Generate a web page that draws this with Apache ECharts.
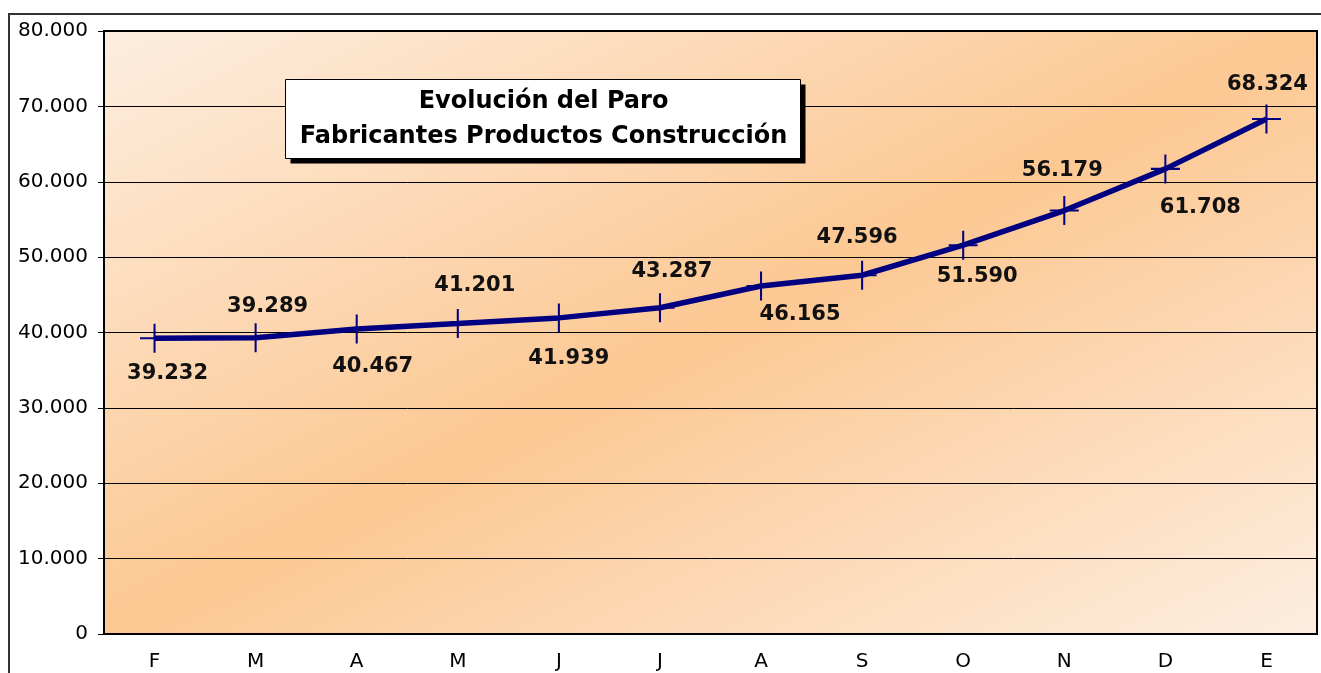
<!DOCTYPE html>
<html>
<head>
<meta charset="utf-8">
<title>Evolución del Paro</title>
<script src="https://cdn.jsdelivr.net/npm/echarts@6/dist/echarts.min.js"></script>
<style>
  html, body { margin: 0; padding: 0; background: #fff; }
  #chart { width: 1321px; height: 673px; }
</style>
</head>
<body>
<div id="chart"></div>
<script>
// datos
const months = ['F', 'M', 'A', 'M', 'J', 'J', 'A', 'S', 'O', 'N', 'D', 'E']
const paro = [39232, 39289, 40467, 41201, 41939, 43287, 46165, 47596, 51590, 56179, 61708, 68324]
const titleLines = ['Evolución del Paro', 'Fabricantes Productos Construcción']

// label placement (dx, dy from each point), as moved by hand in the original
const labelShift = [
  [13, 35], [12, -31], [16, 38], [17, -38], [10, 41], [12, -36],
  [39, 29], [-5, -38], [14, 31], [-2, -40], [35, 39], [1, -34],
]

const fmt = (v) => String(v).replace(/\B(?=(\d{3})+(?!\d))/g, '.')
const font = 'DejaVu Sans, Verdana, sans-serif'

const chart = echarts.init(document.getElementById('chart'))

const titleText = (txt, y) => ({
  type: 'text',
  x: 258,
  y: y,
  z: 102,
  style: {
    text: txt,
    font: 'bold 24px ' + font,
    fill: '#000',
    align: 'center',
    verticalAlign: 'middle',
  },
})

chart.setOption({
  animation: false,
  textStyle: { fontFamily: font },
  grid: {
    left: 104,
    right: 4,
    top: 31,
    bottom: 39,
    show: true,
    borderColor: '#000',
    borderWidth: 2,
    backgroundColor: new echarts.graphic.LinearGradient(0.302, -0.302, 0.698, 1.302, [
      { offset: 0, color: '#fdeee0' },
      { offset: 0.5, color: '#fcc893' },
      { offset: 1, color: '#fdeee0' },
    ]),
  },
  xAxis: {
    type: 'category',
    data: months,
    boundaryGap: true,
    axisLine: { lineStyle: { color: '#000', width: 2 } },
    axisTick: { length: 5, lineStyle: { color: '#000', width: 1 } },
    axisLabel: { color: '#000', fontSize: 20, margin: 18, fontFamily: font },
  },
  yAxis: {
    type: 'value',
    min: 0,
    max: 80000,
    interval: 10000,
    axisLine: { show: true, lineStyle: { color: '#000', width: 2 } },
    axisTick: { show: true, length: 6, lineStyle: { color: '#000', width: 1 } },
    axisLabel: { color: '#000', fontSize: 20, margin: 16, fontFamily: font, formatter: fmt },
    splitLine: { lineStyle: { color: '#000', width: 1 } },
  },
  series: [
    {
      type: 'line',
      data: paro.map((v, i) => ({
        value: v,
        label: { offset: labelShift[i] },
      })),
      lineStyle: { color: '#000080', width: 5.5 },
      itemStyle: { color: '#000080' },
      symbol: 'path://M9.3,0h1.4v9.3h9.3v1.4h-9.3v9.3h-1.4v-9.3h-9.3v-1.4h9.3z',
      symbolSize: 29,
      label: {
        show: true,
        position: 'inside',
        color: '#111',
        fontSize: 21,
        fontWeight: 'bold',
        fontFamily: font,
        formatter: (p) => fmt(p.value),
      },
      z: 3,
    },
  ],
  graphic: [
    {
      type: 'rect',
      shape: { x: 9, y: 14, width: 1400, height: 800 },
      style: { fill: 'none', stroke: '#333', lineWidth: 2 },
      silent: true,
      z: 0,
    },
    {
      type: 'group',
      left: 285,
      top: 79,
      z: 100,
      children: [
        {
          type: 'rect',
          z: 100,
          shape: { x: 5, y: 5, width: 515, height: 79 },
          style: { fill: '#000' },
        },
        {
          type: 'rect',
          z: 101,
          shape: { x: 0, y: 0, width: 515, height: 79 },
          style: { fill: '#fff', stroke: '#000', lineWidth: 1 },
        },
        titleText(titleLines[0], 22),
        titleText(titleLines[1], 57),
      ],
    },
  ],
})
</script>
</body>
</html>
